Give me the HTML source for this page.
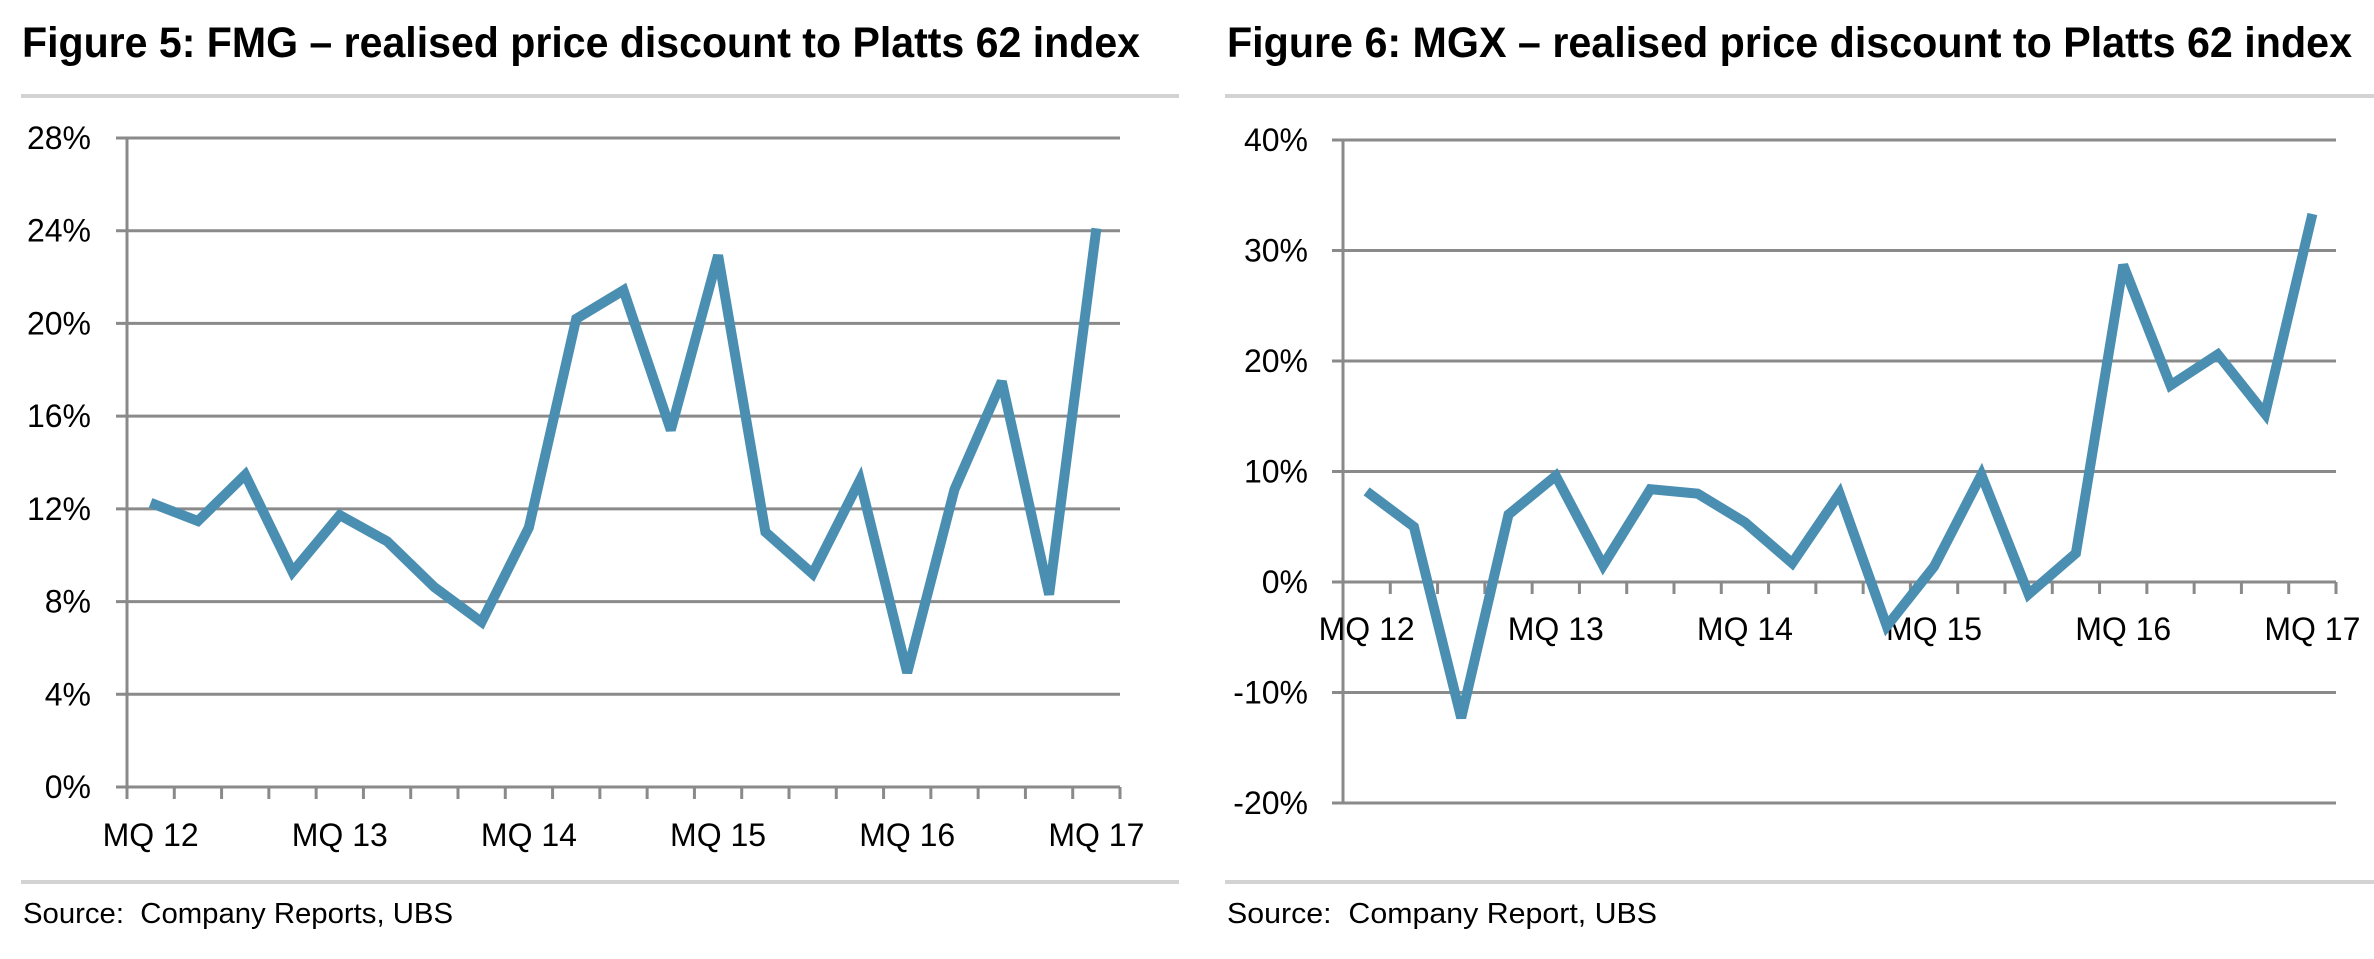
<!DOCTYPE html>
<html><head><meta charset="utf-8"><style>
html,body{margin:0;padding:0;background:#fff;}
svg{display:block;font-family:"Liberation Sans",sans-serif;}
</style></head><body>
<svg id="root" width="2374" height="959" viewBox="0 0 2374 959">
<g>
<text x="22" y="57" font-size="43" font-weight="bold" textLength="1118" lengthAdjust="spacingAndGlyphs">Figure 5: FMG – realised price discount to Platts 62 index</text>
<rect x="21" y="94" width="1158" height="4" fill="#d3d3d3"/>
<g id="c1"></g>
<rect x="21" y="880" width="1158" height="4" fill="#d3d3d3"/>
<text x="23" y="923" font-size="29" textLength="430" lengthAdjust="spacingAndGlyphs">Source:&#160; Company Reports, UBS</text>
</g>
<g>
<text x="1227" y="57" font-size="43" font-weight="bold" textLength="1125" lengthAdjust="spacingAndGlyphs">Figure 6: MGX – realised price discount to Platts 62 index</text>
<rect x="1225" y="94" width="1149" height="4" fill="#d3d3d3"/>
<g id="c2"></g>
<rect x="1225" y="880" width="1149" height="4" fill="#d3d3d3"/>
<text x="1227" y="923" font-size="29" textLength="430" lengthAdjust="spacingAndGlyphs">Source:&#160; Company Report, UBS</text>
</g>
</svg>
<script>
const categories = ["MQ 12","","","","MQ 13","","","","MQ 14","","","","MQ 15","","","","MQ 16","","","","MQ 17"];
const fmgValues = [12.26,11.47,13.47,9.28,11.73,10.6,8.62,7.12,11.2,20.2,21.43,15.4,22.94,11.0,9.2,13.23,4.93,12.84,17.5,8.3,24.1];
const mgxValues = [8.2,5.0,-12.3,6.1,9.6,1.5,8.4,8.0,5.4,1.7,8.0,-4.0,1.4,9.7,-1.1,2.6,28.7,17.8,20.6,15.2,33.3];
const fmgTicks = [0,4,8,12,16,20,24,28];
const mgxTicks = [-20,-10,0,10,20,30,40];

const NS = "http://www.w3.org/2000/svg";
function mk(parent, tag, attrs){const e=document.createElementNS(NS,tag);for(const k in attrs)e.setAttribute(k,attrs[k]);parent.appendChild(e);return e;}

function drawChart(g, vals, ticks, opt){
  const n = vals.length;
  const step = (opt.x1-opt.x0)/n;
  const xs = i => opt.x0 + step*(i+0.5);
  const ys = v => opt.yZero - (v - opt.vZero)*opt.pxPer;
  const yMin = ticks[0], yMax = ticks[ticks.length-1];
  ticks.forEach(t=>{
    const y = ys(t);
    const l = mk(g,"line",{x1:opt.x0-11,x2:opt.x1,y1:y,y2:y,stroke:"#8a8a8a","stroke-width":3});
    
    
    const tx = mk(g,"text",{x:opt.labelRight,y:y+11,"font-size":32,"text-anchor":"end"});
    tx.textContent = t+"%";
    
    
  });
  const ax = mk(g,"line",{x1:opt.x0,x2:opt.x0,y1:ys(yMax),y2:ys(yMin),stroke:"#8a8a8a","stroke-width":3});
  
  
  const yb = ys(0);
  for(let i=0;i<=n;i++){
    const x = opt.x0+step*i;
    const tk = mk(g,"line",{x1:x,x2:x,y1:yb,y2:yb+12,stroke:"#8a8a8a","stroke-width":3});
    
    
  }
  categories.forEach((c,i)=>{
    if(!c) return;
    const tx = mk(g,"text",{x:xs(i),y:opt.labelY,"font-size":32,"text-anchor":"middle"});
    tx.textContent = c;
    
    
  });
  const pts = vals.map((v,i)=>xs(i).toFixed(1)+","+ys(v).toFixed(1)).join(" ");
  const pl = mk(g,"polyline",{points:pts,fill:"none",stroke:"#4a8fb1","stroke-width":10,"stroke-linejoin":"miter","stroke-miterlimit":3});
  
  
}

drawChart(document.getElementById("c1"), fmgValues, fmgTicks,
  {x0:127,x1:1120,yZero:787,vZero:0,pxPer:(787-138)/28,labelRight:91,labelY:846});
drawChart(document.getElementById("c2"), mgxValues, mgxTicks,
  {x0:1343,x1:2336,yZero:582,vZero:0,pxPer:11.05,labelRight:1308,labelY:640});
</script>
</body></html>
